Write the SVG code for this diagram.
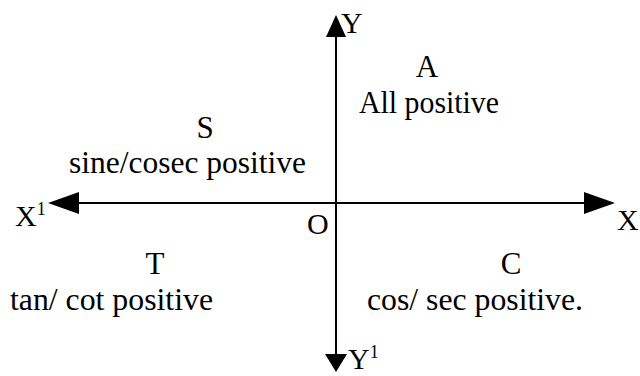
<svg xmlns="http://www.w3.org/2000/svg" width="640" height="376" viewBox="0 0 640 376">
<style>
text{font-family:"Liberation Serif","Times New Roman",serif;fill:#000}
.t{font-size:31px}
.l{font-size:30px}
.sup{font-size:18px}
.ax{stroke:#000;stroke-width:2;fill:none}
.ah{fill:#000}
</style>
<rect width="640" height="376" fill="#fff"/>
<g id="connectors">
<line class="ax" x1="78" y1="203" x2="586" y2="203"/>
<line class="ax" x1="336" y1="34" x2="336" y2="356"/>
<polygon class="ah" points="48,203 79,192 79,214"/>
<polygon class="ah" points="615,203 584,192 584,214"/>
<polygon class="ah" points="336,15 326,37 346,37"/>
<polygon class="ah" points="336,372 325,354 347,354"/>
</g>
<g id="axis-labels">
<text class="l" x="341" y="33">Y</text>
<text class="l" x="15" y="226">X<tspan class="sup" dy="-11">1</tspan></text>
<text class="l" x="617" y="230">X</text>
<text class="l" x="307" y="234">O</text>
<text class="l" x="348" y="369">Y<tspan class="sup" dy="-11">1</tspan></text>
</g>
<g id="quadrant-A">
<text class="t" x="427" y="77" text-anchor="middle">A</text>
<text class="t" x="359" y="113" textLength="140" lengthAdjust="spacingAndGlyphs">All positive</text>
</g>
<g id="quadrant-S">
<text class="t" x="205" y="138" text-anchor="middle">S</text>
<text class="t" x="69" y="173" textLength="237" lengthAdjust="spacingAndGlyphs">sine/cosec positive</text>
</g>
<g id="quadrant-T">
<text class="t" x="155" y="274" text-anchor="middle">T</text>
<text class="t" x="10" y="310" textLength="203" lengthAdjust="spacingAndGlyphs">tan/ cot positive</text>
</g>
<g id="quadrant-C">
<text class="t" x="511" y="274" text-anchor="middle">C</text>
<text class="t" x="367" y="310" textLength="216" lengthAdjust="spacingAndGlyphs">cos/ sec positive.</text>
</g>
</svg>
